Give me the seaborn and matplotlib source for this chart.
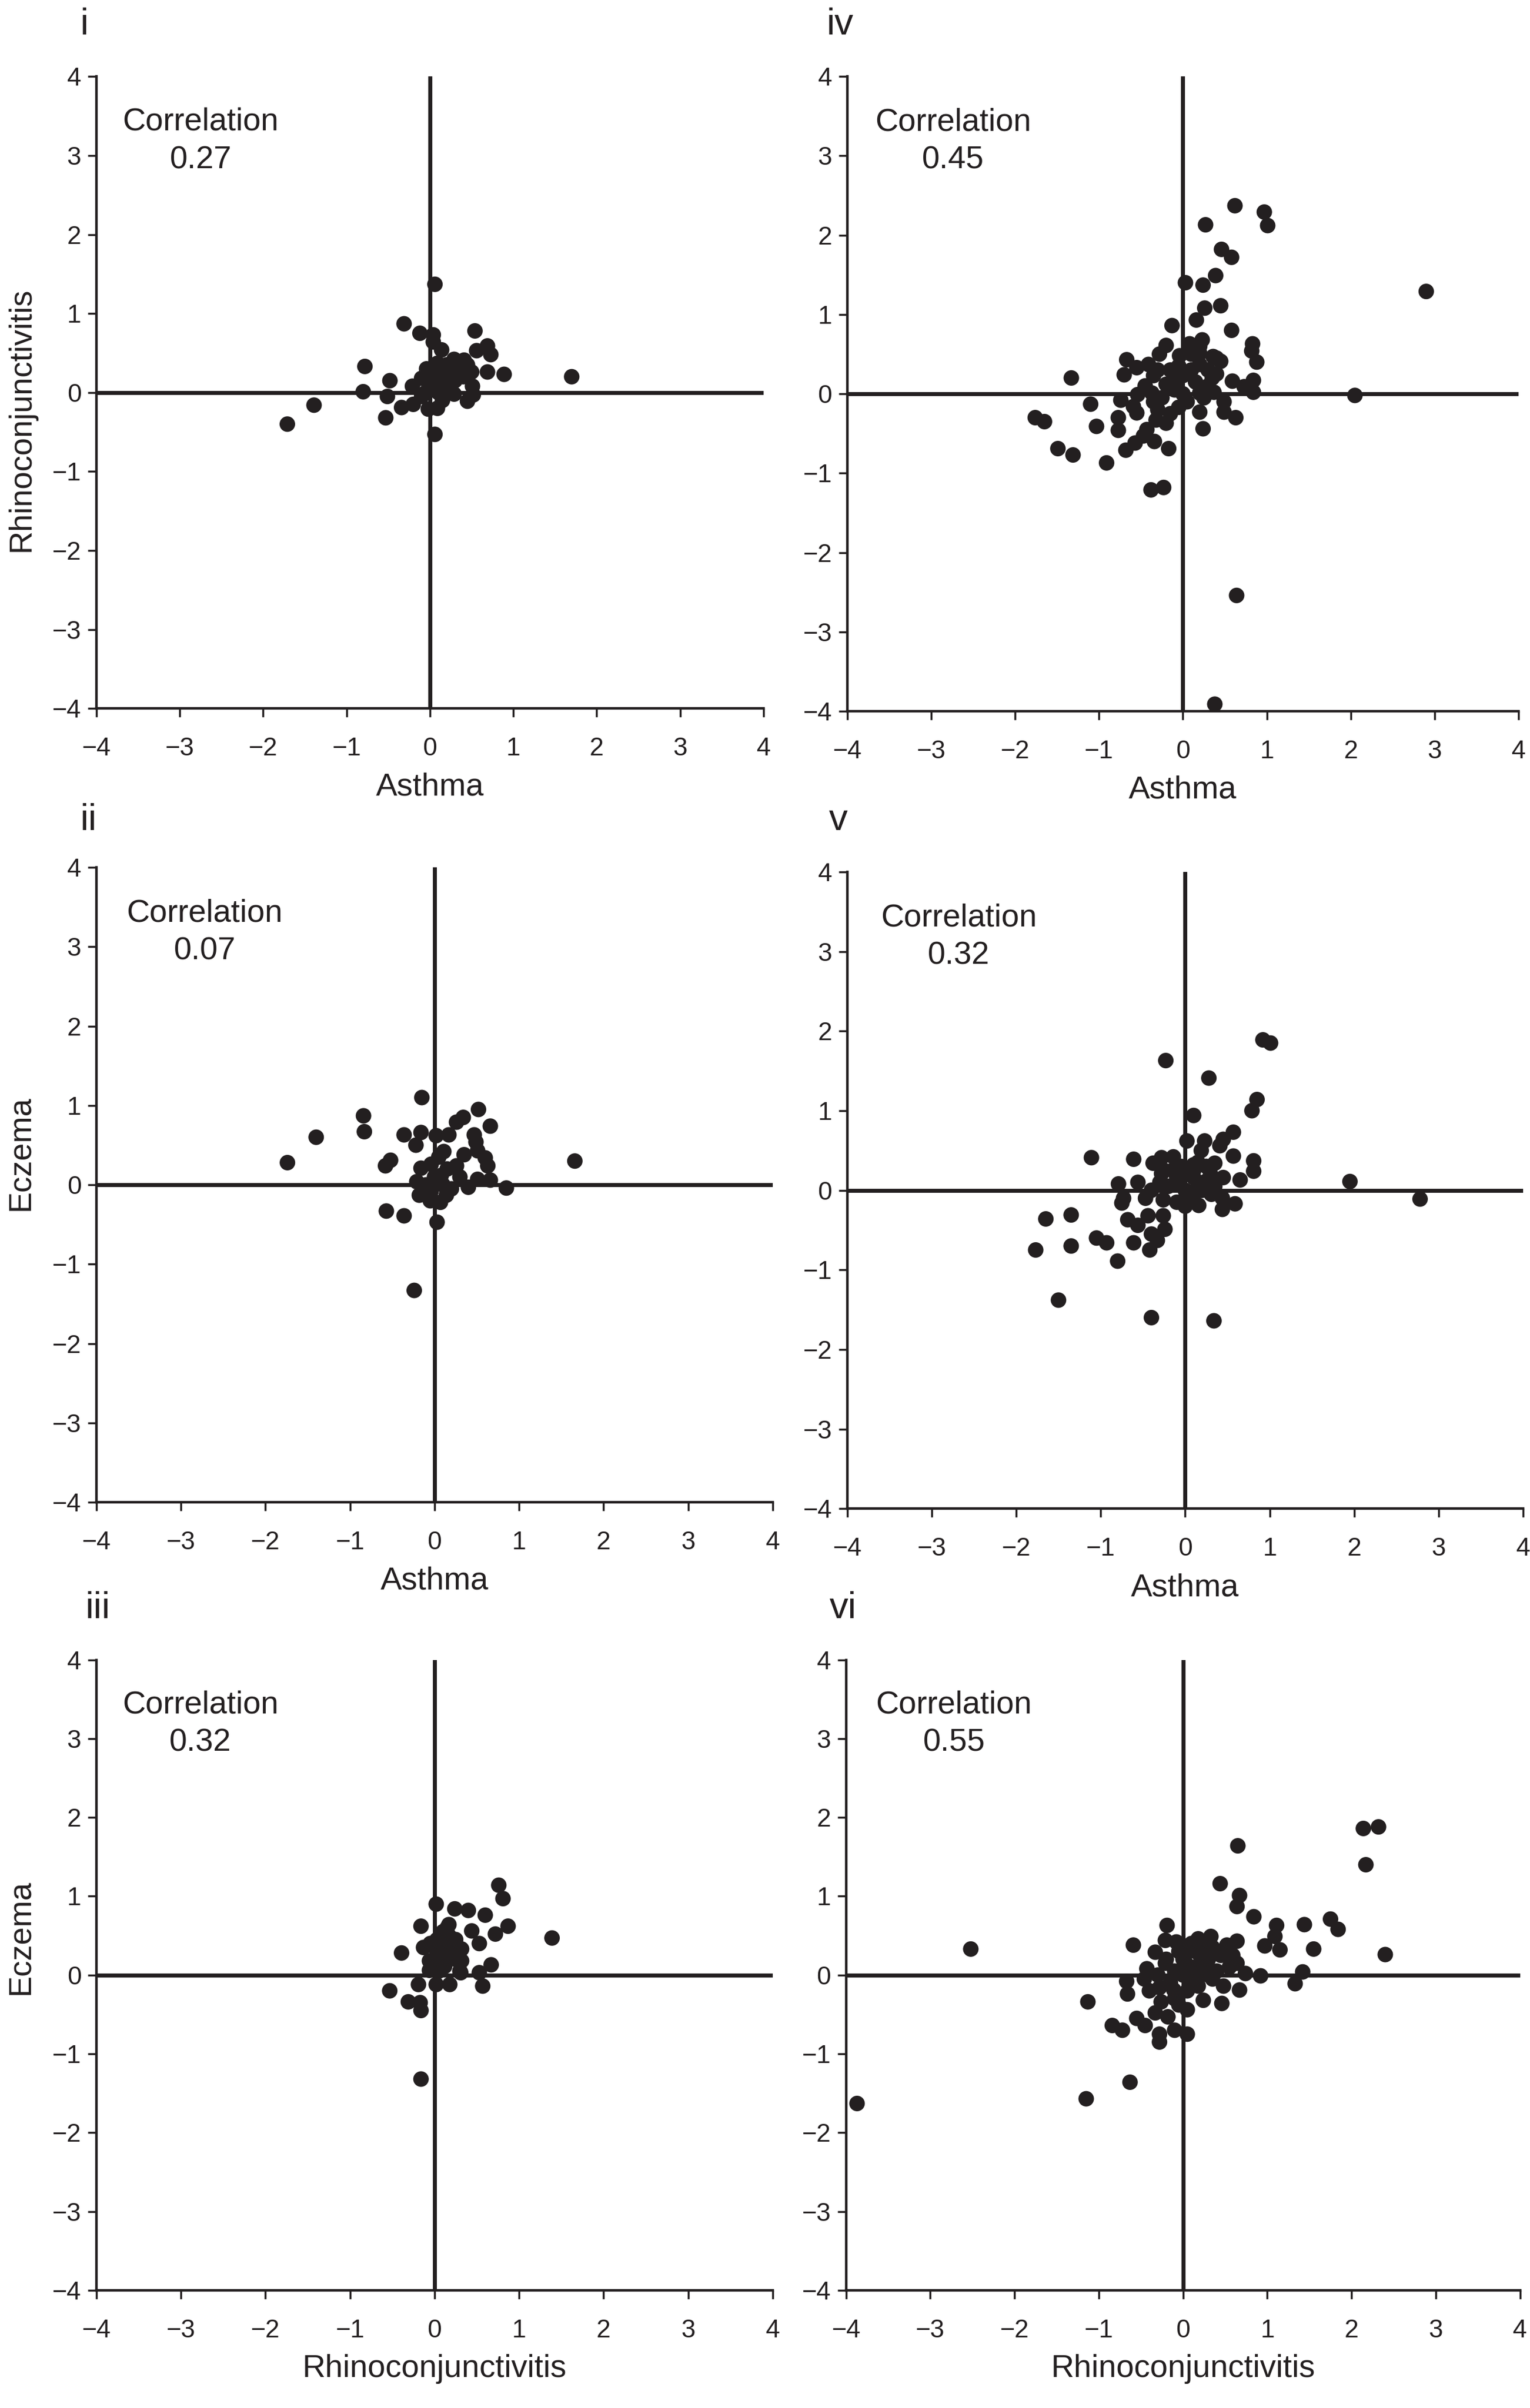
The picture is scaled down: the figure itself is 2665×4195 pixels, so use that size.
import numpy as np
import pandas as pd
import matplotlib
matplotlib.use("Agg")
import matplotlib.pyplot as plt
import seaborn as sns

# Panel i : asthma (x) vs rhinoconjunctivitis (y)
i_x = [0.06, -0.31, -0.12, 0.04, 0.04, 0.14, 0.54, 0.69, 0.73, 0.56, 0.89, 1.70,
       0.69, 0.50, 0.51, 0.52, 0.45, 0.29, 0.41, 0.09, -0.04, 0.29, -0.78, -0.48,
       -0.80, -0.51, -1.39, -1.71, -0.53, -0.34, -0.20, -0.02, 0.09, 0.06, -0.21, -0.10,
       0.00, 0.10, 0.15, 0.20, 0.25, 0.05, 0.30, 0.35, 0.20, -0.10, 0.10, 0.40,
       0.15, -0.05, 0.25, 0.45, 0.30, 0.10]
i_y = [1.37, 0.87, 0.75, 0.73, 0.64, 0.54, 0.78, 0.59, 0.48, 0.53, 0.23, 0.20,
       0.26, 0.26, 0.08, -0.03, -0.11, 0.42, 0.41, 0.37, 0.30, -0.02, 0.33, 0.15,
       0.01, -0.05, -0.16, -0.40, -0.32, -0.19, -0.15, -0.21, -0.20, -0.53, 0.08, 0.18,
       0.10, 0.00, 0.20, 0.10, 0.25, 0.25, 0.15, 0.30, 0.35, -0.05, 0.10, 0.20,
       -0.10, 0.00, 0.00, 0.35, 0.35, 0.30]

# Panel ii : asthma (x) vs eczema (y)
ii_x = [-0.15, -0.84, -0.83, -1.40, -1.74, 1.66, 0.52, 0.34, 0.26, 0.66, 0.47, 0.49,
        -0.36, -0.16, 0.02, 0.17, -0.22, 0.11, 0.35, 0.60, 0.63, 0.51, 0.26, -0.52,
        -0.58, -0.16, -0.04, 0.08, -0.21, 0.40, 0.51, 0.66, 0.85, -0.18, -0.04, 0.14,
        0.07, -0.57, -0.36, 0.03, -0.24,
        0.00, 0.10, 0.05, -0.10, 0.15, 0.30, -0.05, 0.20]
ii_y = [1.10, 0.87, 0.67, 0.60, 0.28, 0.30, 0.95, 0.85, 0.79, 0.74, 0.63, 0.54,
        0.63, 0.66, 0.62, 0.63, 0.50, 0.42, 0.38, 0.34, 0.24, 0.43, 0.24, 0.31,
        0.24, 0.21, 0.26, 0.12, 0.04, -0.03, 0.07, 0.06, -0.04, -0.13, -0.08, -0.13,
        -0.22, -0.33, -0.39, -0.47, -1.33,
        0.10, 0.00, 0.35, 0.00, 0.20, 0.10, -0.20, -0.05]

# Panel iii : rhinoconjunctivitis (x) vs eczema (y)
iii_x = [0.76, 0.81, 0.02, 0.24, 0.40, 0.60, -0.16, 0.17, 0.44, 0.87, 0.72, 1.39,
         -0.13, -0.39, 0.53, 0.32, 0.03, 0.17, 0.03, 0.21, -0.06, 0.32, 0.67, 0.53,
         0.31, -0.06, 0.12, -0.19, 0.02, 0.18, 0.57, -0.53, -0.31, -0.17, -0.16, -0.16,
         0.05, 0.10, 0.00, 0.15, 0.25, 0.05, 0.10, -0.05, 0.20,
         0.10, 0.05, 0.30, 0.15, 0.25]
iii_y = [1.14, 0.97, 0.90, 0.84, 0.82, 0.76, 0.62, 0.64, 0.56, 0.62, 0.52, 0.47,
         0.35, 0.28, 0.40, 0.33, 0.45, 0.50, 0.25, 0.23, 0.18, 0.18, 0.13, 0.03,
         0.03, 0.06, 0.11, -0.12, -0.12, -0.12, -0.14, -0.20, -0.34, -0.35, -0.45, -1.32,
         0.30, 0.40, 0.35, 0.20, 0.45, 0.05, 0.55, 0.40, 0.30,
         0.20, 0.15, 0.05, 0.60, 0.20]

# Panel iv : asthma (x) vs rhinoconjunctivitis (y)
iv_x = [0.62, 0.97, 1.01, 0.27, 0.46, 0.58, 0.39, 0.03, 0.24, 0.45, 0.26, 0.16,
        0.58, -0.13, 0.83, 0.82, 0.88, 0.23, 0.08, -0.20, -0.28, 0.45, 0.36, 0.20,
        -0.04, 0.20, -0.67, -0.55, -0.41, -0.70, -1.33, -0.35, 0.00, 0.35, 0.59, 0.84,
        0.73, 0.84, -0.20, -0.10, 0.20, 0.37, -0.54, -0.37, -0.74, -1.10, -0.59, -0.55,
        -0.35, -0.30, -0.05, 0.20, 0.49, 0.49, 0.63, 0.24, -0.20, -0.32, -0.43, -0.47,
        -0.77, -0.77, -1.03, -1.76, -1.65, -1.49, -1.31, -0.91, -0.68, -0.57, -0.34, -0.17,
        -0.38, -0.23, 2.90, 2.05, 0.64, 0.38,
        0.10, -0.05, 0.30, 0.15, -0.15, 0.25, -0.25, 0.05, -0.45, 0.40,
        0.00, 0.10, -0.10, 0.30, -0.30, 0.20, -0.15, 0.40]
iv_y = [2.37, 2.29, 2.12, 2.13, 1.82, 1.72, 1.49, 1.40, 1.37, 1.11, 1.08, 0.93,
        0.80, 0.86, 0.63, 0.54, 0.40, 0.68, 0.63, 0.61, 0.50, 0.41, 0.47, 0.51,
        0.48, 0.37, 0.43, 0.33, 0.37, 0.24, 0.20, 0.23, 0.23, 0.20, 0.16, 0.17,
        0.09, 0.02, 0.12, 0.05, 0.01, 0.02, -0.01, 0.01, -0.08, -0.13, -0.16, -0.24,
        -0.10, -0.20, -0.17, -0.23, -0.10, -0.23, -0.30, -0.44, -0.37, -0.33, -0.45, -0.53,
        -0.30, -0.46, -0.41, -0.30, -0.35, -0.69, -0.77, -0.87, -0.71, -0.62, -0.60, -0.69,
        -1.21, -1.18, 1.29, -0.02, -2.54, -3.91,
        0.30, 0.35, 0.30, 0.15, 0.30, -0.05, -0.05, -0.10, 0.10, 0.25,
        0.00, 0.50, 0.15, 0.10, 0.30, 0.60, -0.25, 0.45]

# Panel v : asthma (x) vs eczema (y)
v_x = [0.92, 1.01, -0.23, 0.28, 0.85, 0.79, 0.10, 0.57, 0.45, 0.41, 0.23, 0.02,
       0.19, 0.57, 0.81, 0.81, 0.65, 0.45, 0.35, -1.11, -0.61, -0.28, -0.14, -0.38,
       0.10, -0.28, -0.10, 0.10, 0.24, -0.79, -0.56, -0.73, -0.75, -0.47, -0.26, -0.10,
       0.00, 0.16, 0.31, 0.44, 0.59, 0.44, -1.65, -1.35, -0.68, -0.56, -0.44, -0.26,
       -0.24, -0.40, -0.33, -1.05, -0.93, -0.61, -1.35, -1.77, -0.42, -0.80, -1.50, -0.40,
       0.34, 1.95, 2.78,
       0.00, 0.05, -0.15, 0.15, 0.30, -0.20, 0.10, -0.05, 0.20, -0.30,
       -0.10, 0.10, 0.25, -0.25, 0.35, 0.00, -0.40, 0.15]
v_y = [1.89, 1.85, 1.63, 1.41, 1.14, 1.00, 0.94, 0.73, 0.64, 0.56, 0.62, 0.62,
       0.50, 0.43, 0.37, 0.24, 0.13, 0.16, 0.34, 0.41, 0.39, 0.41, 0.42, 0.34,
       0.32, 0.21, 0.16, 0.16, 0.11, 0.08, 0.10, -0.10, -0.16, -0.10, -0.12, -0.15,
       -0.20, -0.19, -0.05, -0.24, -0.17, -0.10, -0.36, -0.31, -0.37, -0.44, -0.32, -0.32,
       -0.49, -0.55, -0.63, -0.60, -0.66, -0.66, -0.70, -0.75, -0.75, -0.89, -1.38, -1.60,
       -1.64, 0.11, -0.11,
       0.00, 0.20, 0.25, 0.35, 0.20, 0.05, -0.05, 0.30, 0.00, 0.10,
       0.10, 0.25, 0.30, 0.25, 0.05, -0.10, 0.00, 0.10]

# Panel vi : rhinoconjunctivitis (x) vs eczema (y)
vi_x = [2.14, 2.32, 2.17, 0.65, 0.44, 0.67, 0.64, 0.84, 1.75, 1.84, 1.44, 1.11,
        1.09, 0.97, 1.15, 1.55, 2.40, -0.19, -0.59, -0.21, -0.08, 0.18, 0.33, 0.64,
        0.52, -0.33, 0.05, 0.31, 0.59, 0.64, -0.21, 0.02, 0.25, -0.43, 0.74, 0.92,
        1.42, 1.33, -0.67, -0.66, -0.46, -0.28, -0.11, 0.18, 0.48, 0.67, -1.13, -0.26,
        -0.05, 0.24, 0.46, 0.05, -0.33, -0.18, -0.55, -0.45, -0.84, -0.72, -0.28, -0.10,
        0.05, -0.28, -0.63, -2.52, -3.87, -1.15,
        0.00, 0.10, 0.20, -0.10, 0.30, 0.15, 0.40, -0.15, 0.05, 0.35, 0.25, -0.05,
        0.00, 0.10, 0.20, -0.20, 0.30, 0.45, -0.30, 0.10, 0.55, -0.10, 0.35, -0.40]
vi_y = [1.86, 1.88, 1.40, 1.64, 1.16, 1.01, 0.87, 0.74, 0.71, 0.58, 0.64, 0.63,
        0.49, 0.37, 0.32, 0.33, 0.26, 0.63, 0.38, 0.44, 0.42, 0.46, 0.49, 0.43,
        0.38, 0.29, 0.32, 0.30, 0.25, 0.15, 0.15, 0.18, 0.15, 0.08, 0.02, -0.01,
        0.04, -0.11, -0.08, -0.24, -0.05, -0.16, -0.19, -0.14, -0.14, -0.19, -0.34, -0.34,
        -0.38, -0.32, -0.36, -0.44, -0.48, -0.53, -0.55, -0.64, -0.64, -0.70, -0.75, -0.70,
        -0.75, -0.85, -1.36, 0.33, -1.63, -1.57,
        0.00, 0.10, 0.00, 0.05, 0.20, 0.30, 0.05, -0.10, -0.20, -0.05, 0.35, 0.30,
        0.20, -0.10, 0.25, 0.20, 0.00, 0.25, 0.00, 0.40, 0.10, -0.30, 0.35, -0.20]

panel_labels = ["i", "ii", "iii", "iv", "v", "vi"]
x_labels = ["Asthma", "Asthma", "Rhinoconjunctivitis",
            "Asthma", "Asthma", "Rhinoconjunctivitis"]
y_labels = ["Rhinoconjunctivitis", "Eczema", "Eczema", "", "", ""]
correlations = ["0.27", "0.07", "0.32", "0.45", "0.32", "0.55"]
panel_x = [i_x, ii_x, iii_x, iv_x, v_x, vi_x]
panel_y = [i_y, ii_y, iii_y, iv_y, v_y, vi_y]
ticks = [-4, -3, -2, -1, 0, 1, 2, 3, 4]

rects = [
    [0.063, 0.7058, 0.436, 0.2624],
    [0.063, 0.3761, 0.442, 0.2637],
    [0.063, 0.0489, 0.442, 0.2618],
    [0.5538, 0.7046, 0.4387, 0.2637],
    [0.5538, 0.3735, 0.4417, 0.2644],
    [0.5530, 0.0489, 0.4405, 0.2618],
]
label_pos = [(0.055, 0.9857), (0.058, 0.6553), (0.064, 0.3281),
             (0.549, 0.9857), (0.548, 0.6553), (0.551, 0.3281)]
corr_x = [-2.75, -2.72, -2.77, -2.74, -2.68, -2.72]
ylabel_y = [0.457, 0.55, 0.56]

ink = "#231f20"

sns.set_style("ticks")
plt.rcParams["font.family"] = ["Liberation Sans", "DejaVu Sans"]

fig = plt.figure(figsize=(26.65, 41.95), dpi=100)

for k in range(6):
    ax = fig.add_axes(rects[k])
    df = pd.DataFrame({"x": panel_x[k], "y": panel_y[k]})
    sns.scatterplot(data=df, x="x", y="y", ax=ax, s=380, color=ink,
                    edgecolor="none", linewidth=0, zorder=3)
    ax.axhline(0, color=ink, lw=5, zorder=2)
    ax.axvline(0, color=ink, lw=5, zorder=2)

    ax.set_xlim(-4, 4)
    ax.set_ylim(-4, 4)
    ax.set_xticks(ticks)
    ax.set_yticks(ticks)
    sns.despine(ax=ax)
    for side in ["left", "bottom"]:
        ax.spines[side].set_linewidth(3.2)
        ax.spines[side].set_color(ink)
    ax.tick_params(length=11, width=2.5, color=ink, labelsize=32, labelcolor=ink)
    ax.tick_params(axis="x", pad=25)
    ax.tick_params(axis="y", pad=8)

    ax.set_xlabel(x_labels[k], fontsize=40, color=ink)
    ax.xaxis.set_label_coords(0.5, -0.101)
    if y_labels[k]:
        ax.set_ylabel(y_labels[k], fontsize=40, color=ink)
        ax.yaxis.set_label_coords(-0.09, ylabel_y[k])
    else:
        ax.set_ylabel("")

    ax.text(corr_x[k], 3.32, "Correlation", ha="center", va="baseline",
            fontsize=40, color=ink)
    ax.text(corr_x[k], 2.84, correlations[k], ha="center", va="baseline",
            fontsize=40, color=ink)

    fig.text(label_pos[k][0], label_pos[k][1], panel_labels[k], ha="center",
             va="baseline", fontsize=47, color=ink)

fig.savefig("out.png", dpi=100, facecolor="white")
